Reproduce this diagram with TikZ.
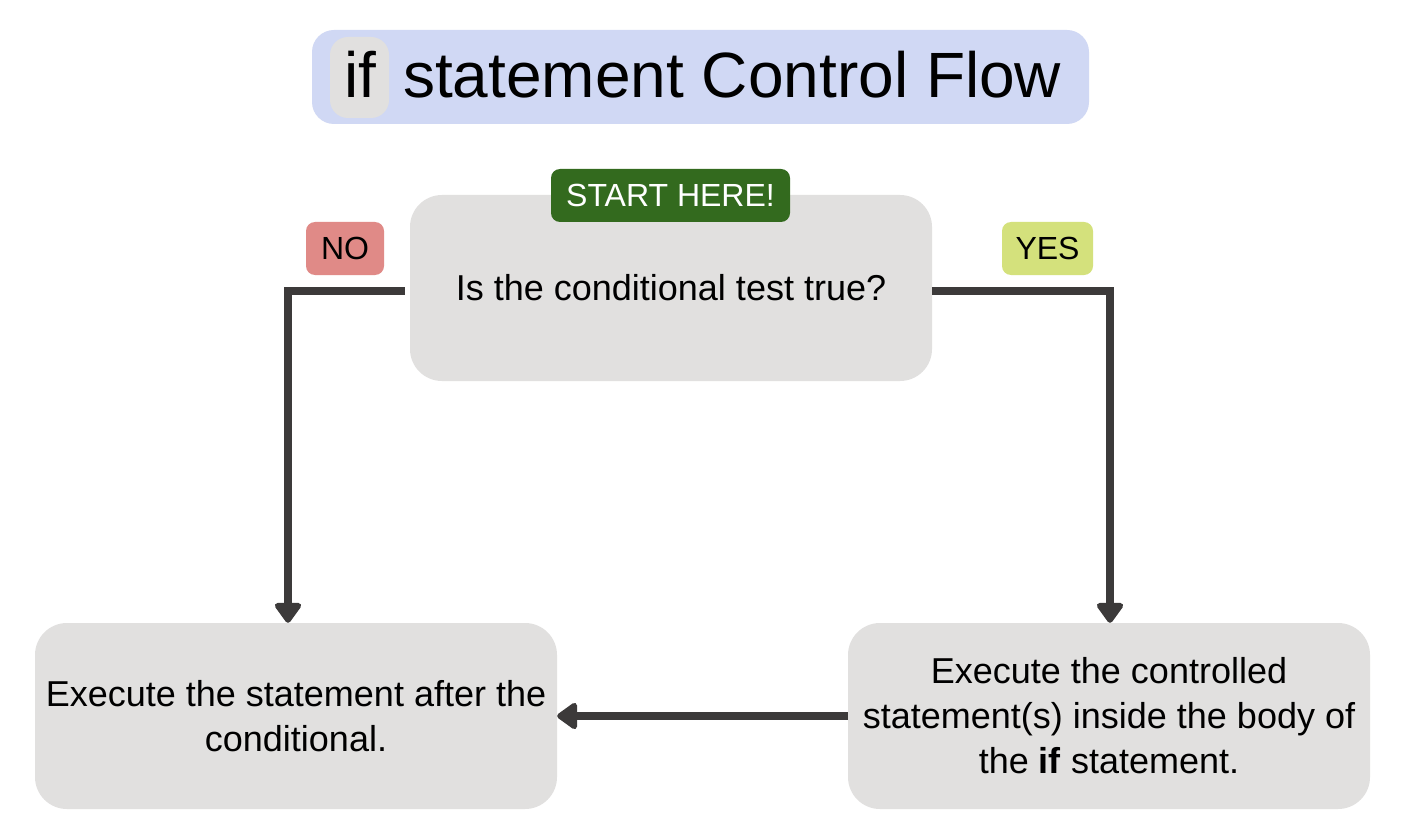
\documentclass[tikz,border=0pt]{standalone}
\usepackage{fontspec}
\setmainfont{Liberation Sans}
\usetikzlibrary{arrows.meta}
\definecolor{boxgray}{HTML}{E1E0DF}
\definecolor{titleblue}{HTML}{D0D8F4}
\definecolor{startgreen}{HTML}{336A1E}
\definecolor{nored}{HTML}{E08A87}
\definecolor{yesgreen}{HTML}{D4E17C}
\definecolor{linegray}{HTML}{3C3A3A}
\begin{document}
\begin{tikzpicture}[x=1pt,y=-1pt,
  box/.style={rectangle, rounded corners=32pt, fill=boxgray, minimum width=522pt, minimum height=186pt, inner sep=0pt, align=center, font=\fontsize{36}{45}\selectfont},
  tag/.style={rectangle, rounded corners=9pt, minimum height=53pt, inner sep=0pt, font=\fontsize{32}{38}\selectfont},
  titletext/.style={inner sep=0pt, font=\fontsize{64}{70}\selectfont},
  conn/.style={draw=linegray, line width=8pt, -{Triangle[width=30pt,length=22pt,round]}}]
\fill[white] (0,0) rectangle (1404,834);
\useasboundingbox (0,0) rectangle (1404,834);
% title
\node[rectangle, rounded corners=22pt, fill=titleblue, minimum width=777pt, minimum height=94pt, inner sep=0pt] (title) at (700.5,77) {};
\node[rectangle, rounded corners=18pt, fill=boxgray, minimum width=59pt, minimum height=81pt, inner sep=0pt] (ifbox) at (359.5,77.5) {};
\node[titletext, anchor=base] (iftext) at (360,98) {if};
\node[titletext, anchor=base west] (ttext) at (403,98) {statement Control Flow};
% boxes
\node[box] (q) at (671,288) {Is the conditional test true?};
\node[box] (nl) at (296,716) {Execute the statement after the\\conditional.};
\node[box] (nr) at (1109,716) {Execute the controlled\\statement(s) inside the body of\\the \textbf{if} statement.};
% tags
\node[tag, fill=startgreen, text=white, minimum width=239pt] (start) at (670.5,195.5) {START HERE!};
\node[tag, fill=nored, minimum width=78pt] (no) at (345,248.5) {NO};
\node[tag, fill=yesgreen, minimum width=91pt] (yes) at (1047.5,248.5) {YES};
% connectors
\coordinate (lc) at (288,291);
\coordinate (rc) at (1110,291);
\draw[conn] ([xshift=-5pt,yshift=-3pt]q.west) -- (lc) -- (lc |- nl.north);
\draw[conn] ([yshift=-3pt]q.east) -- (rc) -- (rc |- nr.north);
\draw[conn] (nr.west) -- (nl.east);
\end{tikzpicture}
\end{document}
